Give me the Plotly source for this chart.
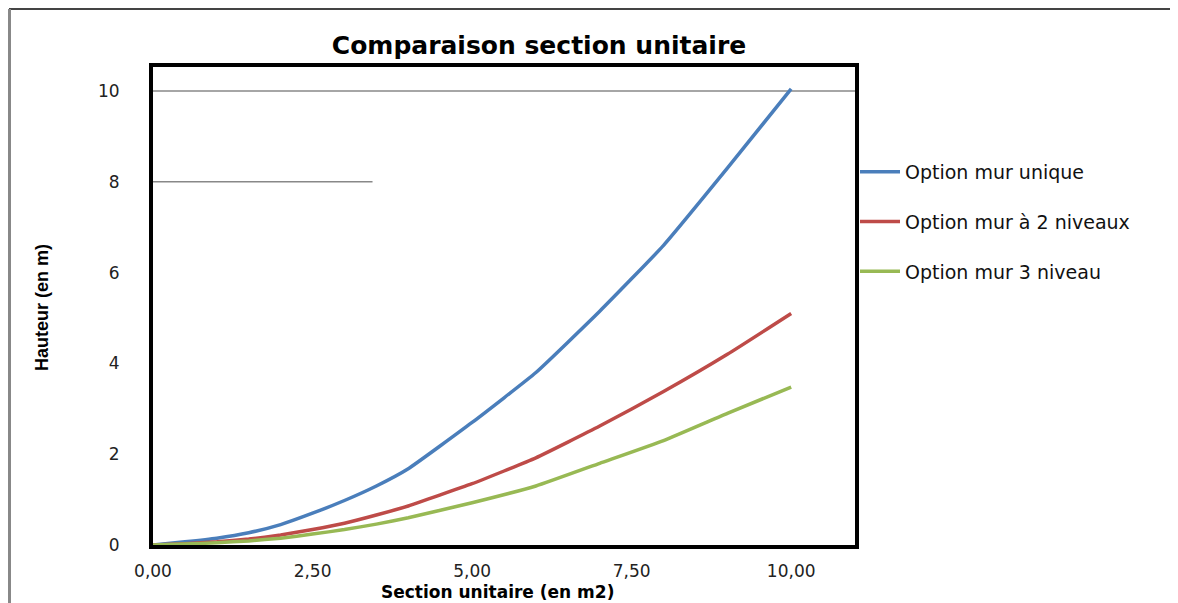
import plotly.graph_objects as go

# Data
section = [0, 0.5, 1, 1.5, 2, 2.5, 3, 3.5, 4, 5, 6, 7, 8, 9, 10]
mur_unique = [0, 0.07, 0.15, 0.27, 0.45, 0.7, 0.98, 1.3, 1.68, 2.7, 3.8, 5.15, 6.6, 8.3, 10.05]
mur_2_niveaux = [0, 0.03, 0.07, 0.13, 0.22, 0.34, 0.48, 0.66, 0.86, 1.35, 1.92, 2.62, 3.38, 4.2, 5.1]
mur_3_niveau = [0, 0.02, 0.05, 0.09, 0.15, 0.24, 0.34, 0.46, 0.6, 0.93, 1.3, 1.8, 2.3, 2.9, 3.48]

series_names = ["Option mur unique", "Option mur à 2 niveaux", "Option mur 3 niveau"]
series_colors = ["#4A7EBB", "#BE4B48", "#98B954"]

x_ticks = [0, 2.5, 5, 7.5, 10]
x_tick_labels = ["0,00", "2,50", "5,00", "7,50", "10,00"]
y_ticks = [0, 2, 4, 6, 8, 10]
y_tick_labels = ["0", "2", "4", "6", "8", "10"]

fig = go.Figure()
for name, vals, col in zip(series_names, [mur_unique, mur_2_niveaux, mur_3_niveau], series_colors):
    fig.add_trace(go.Scatter(x=section, y=vals, mode="lines", name=name, legendgroup=name,
                             line=dict(color=col, width=3.5, shape="spline", smoothing=0.4)))

# Partial gridlines as seen in the reference
fig.add_shape(type="line", xref="x", yref="y", x0=0, x1=11, y0=10, y1=10,
              line=dict(color="#888888", width=1.5), layer="below")
fig.add_shape(type="line", xref="x", yref="y", x0=0, x1=3.44, y0=8, y1=8,
              line=dict(color="#888888", width=1.5), layer="below")

# The page places the figure 8px from the window's top-left corner
OFF = 8
W, H = 1178 - OFF, 603 - OFF
L, R, T, B = 153 - OFF, 855 - OFF, 67 - OFF, 545 - OFF
def px(x): return (x - OFF - L) / (R - L)
def py(y): return (B - (y - OFF)) / (B - T)

# Outer chart frame (left and top edges visible)
fig.add_shape(type="line", xref="paper", yref="paper", x0=px(9), x1=px(1178), y0=py(9), y1=py(9),
              line=dict(color="#444444", width=2))
fig.add_shape(type="line", xref="paper", yref="paper", x0=px(9.5), x1=px(9.5), y0=py(9), y1=py(603),
              line=dict(color="#888888", width=3))

fig.update_layout(
    width=W, height=H,
    margin=dict(l=L, r=W - R, t=T, b=H - B),
    paper_bgcolor="white", plot_bgcolor="white",
    font=dict(family="DejaVu Sans", color="#222222"),
    title=dict(text="<b>Comparaison section unitaire</b>", xref="paper", x=px(539), xanchor="center",
               yref="container", y=1 - (45 - OFF) / H, yanchor="middle", font=dict(size=25, color="black")),
    showlegend=True,
    legend=dict(x=1.0, xanchor="left", y=py(153), yanchor="top", font=dict(size=19, color="#111111"),
                tracegroupgap=22, bgcolor="rgba(0,0,0,0)", itemwidth=40),
    xaxis=dict(range=[0, 11], tickvals=x_ticks, ticktext=x_tick_labels, showgrid=False, zeroline=False,
               showline=True, mirror=True, linecolor="black", linewidth=4, ticks="",
               ticklabelstandoff=8, tickfont=dict(size=17)),
    yaxis=dict(range=[0, 10.53], tickvals=y_ticks, ticktext=y_tick_labels, showgrid=False, zeroline=False,
               showline=True, mirror=True, linecolor="black", linewidth=4, ticks="",
               ticklabelstandoff=26, tickfont=dict(size=17)),
    annotations=[
        dict(text="<b>Section unitaire (en m2)</b>", xref="paper", yref="paper", x=px(497), y=py(592),
             xanchor="center", yanchor="middle", showarrow=False, borderpad=0,
             font=dict(size=17, color="black")),
        dict(text="<b>Hauteur (en m)</b>", xref="paper", yref="paper", x=px(42), y=py(308),
             xanchor="center", yanchor="middle", showarrow=False, textangle=-90,
             font=dict(size=18, color="black", family="Liberation Sans Narrow, Liberation Sans")),
    ],
)

fig.write_html("out.html")
